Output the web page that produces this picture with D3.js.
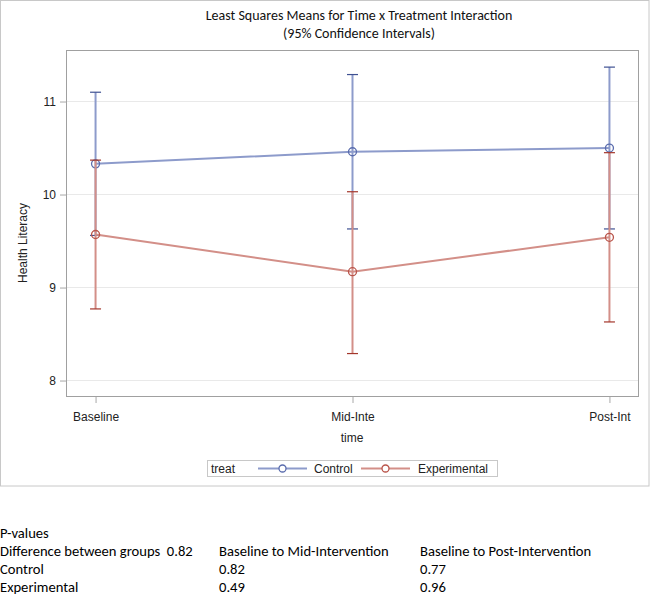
<!DOCTYPE html>
<html>
<head>
<meta charset="utf-8">
<script src="https://cdn.jsdelivr.net/npm/d3@7"></script>
<style>
  html, body { margin: 0; padding: 0; background: #fff; }
  svg { display: block; }
  text { white-space: pre; }
</style>
</head>
<body>
<svg id="chart" width="650" height="597"></svg>
<script>
// ---- data ----
const times = ["Baseline", "Mid-Inte", "Post-Int"];
const controlMean = [10.33, 10.46, 10.50];
const controlLower = [9.56, 9.63, 9.63];
const controlUpper = [11.10, 11.29, 11.37];
const expMean = [9.57, 9.17, 9.54];
const expLower = [8.77, 8.29, 8.63];
const expUpper = [10.37, 10.03, 10.45];
const yTicks = [8, 9, 10, 11];
const pHeader = ["P-values"];
const pRowLabels = ["Difference between groups  0.82", "Control", "Experimental"];
const pMid = ["Baseline to Mid-Intervention", "0.82", "0.49"];
const pPost = ["Baseline to Post-Intervention", "0.77", "0.96"];

const series = [
  { name: "Control", mean: controlMean, lo: controlLower, hi: controlUpper,
    line: "#8d9bcb", cap: "#3f5192", marker: "#5a6cad" },
  { name: "Experimental", mean: expMean, lo: expLower, hi: expUpper,
    line: "#d38f88", cap: "#a3362b", marker: "#b9544a" }
];

const svg = d3.select("#chart");
const L = 66, R = 639, T = 50, B = 397;

// outer border
svg.append("rect").attr("x", 0.5).attr("y", 0.5).attr("width", 648.5).attr("height", 485.5)
  .attr("fill", "none").attr("stroke", "#c8c8c8").attr("stroke-width", 1);

const x = d3.scalePoint().domain(times).range([L, R]).padding(0.115);
const y = d3.scaleLinear().domain([7.823, 11.554]).range([B, T]);

// gridlines
svg.append("g").selectAll("line").data(yTicks).join("line")
  .attr("x1", L).attr("x2", R)
  .attr("y1", d => y(d)).attr("y2", d => y(d))
  .attr("stroke", "#e9e9e9").attr("stroke-width", 1);

// axes
const yAxis = svg.append("g").attr("transform", `translate(${L},0)`)
  .call(d3.axisLeft(y).tickValues(yTicks).tickSize(6).tickPadding(4).tickFormat(d3.format("d")));
const xAxis = svg.append("g").attr("transform", `translate(0,${B})`)
  .call(d3.axisBottom(x).tickSize(6).tickPadding(9));
[yAxis, xAxis].forEach(g => {
  g.select(".domain").remove();
  g.selectAll(".tick line").attr("stroke", "#a8a8a8");
  g.selectAll(".tick text").attr("fill", "#222").style("font-family", "'Liberation Sans', Arial, sans-serif").style("font-size", "12px");
});

// plot frame
svg.append("rect").attr("x", L + 0.5).attr("y", T + 0.5).attr("width", R - L - 1).attr("height", B - T - 1)
  .attr("fill", "none").attr("stroke", "#a0a0a0").attr("stroke-width", 1);

// series
const line = d3.line().x(d => x(d.t)).y(d => y(d.v));
series.forEach(s => {
  const g = svg.append("g");
  const pts = times.map((t, i) => ({ t, v: s.mean[i], lo: s.lo[i], hi: s.hi[i] }));
  g.selectAll("line.eb").data(pts).join("line").attr("class", "eb")
    .attr("x1", d => x(d.t)).attr("x2", d => x(d.t))
    .attr("y1", d => y(d.lo)).attr("y2", d => y(d.hi))
    .attr("stroke", s.line).attr("stroke-width", 2);
  ["lo", "hi"].forEach(k => {
    g.selectAll("line.cap" + k).data(pts).join("line").attr("class", "cap" + k)
      .attr("x1", d => x(d.t) - 5.5).attr("x2", d => x(d.t) + 5.5)
      .attr("y1", d => y(d[k])).attr("y2", d => y(d[k]))
      .attr("stroke", s.cap).attr("stroke-width", 1.2);
  });
  g.append("path").datum(pts).attr("d", line)
    .attr("fill", "none").attr("stroke", s.line).attr("stroke-width", 2);
  g.selectAll("circle").data(pts).join("circle")
    .attr("cx", d => x(d.t)).attr("cy", d => y(d.v)).attr("r", 4)
    .attr("fill", "none").attr("stroke", s.marker).attr("stroke-width", 1.3);
});

// titles
const titleFont = "Carlito, Calibri, Lato, sans-serif";
svg.append("text").attr("x", 359).attr("y", 20).attr("text-anchor", "middle")
  .style("font-family", titleFont).style("font-size", "14px").attr("fill", "#111")
  .text("Least Squares Means for Time x Treatment Interaction");
svg.append("text").attr("x", 359).attr("y", 38).attr("text-anchor", "middle")
  .style("font-family", titleFont).style("font-size", "14px").attr("fill", "#111")
  .text("(95% Confidence Intervals)");

// axis labels
const axFont = "'Liberation Sans', Arial, sans-serif";
svg.append("text").attr("transform", "translate(27,243) rotate(-90)").attr("text-anchor", "middle")
  .style("font-family", axFont).style("font-size", "12px").attr("fill", "#222").text("Health Literacy");
svg.append("text").attr("x", 352).attr("y", 442).attr("text-anchor", "middle")
  .style("font-family", axFont).style("font-size", "12px").attr("fill", "#222").text("time");

// legend
const lg = svg.append("g");
lg.append("rect").attr("x", 207.5).attr("y", 460.5).attr("width", 290).attr("height", 16)
  .attr("fill", "none").attr("stroke", "#c8c8c8");
lg.append("text").attr("x", 211).attr("y", 472.5).style("font-family", axFont).style("font-size", "12px")
  .attr("fill", "#222").text("treat");
const legX = [[258, 307, 314], [361, 410, 418]];
series.forEach((s, i) => {
  const [x0, x1, tx] = legX[i];
  lg.append("line").attr("x1", x0).attr("x2", x1).attr("y1", 468.5).attr("y2", 468.5)
    .attr("stroke", s.line).attr("stroke-width", 2);
  lg.append("circle").attr("cx", (x0 + x1) / 2).attr("cy", 468.5).attr("r", 3.5)
    .attr("fill", "#fff").attr("stroke", s.marker).attr("stroke-width", 1.3);
  lg.append("text").attr("x", tx).attr("y", 472.5).style("font-family", axFont).style("font-size", "12px")
    .attr("fill", "#222").text(s.name);
});

// p-value table
const tf = "Carlito, Calibri, Lato, sans-serif";
const fs = "14.6px";
const rowsY = [556, 574, 592];
svg.append("text").attr("x", 0).attr("y", 538).style("font-family", tf).style("font-size", fs)
  .attr("fill", "#000").text(pHeader[0]);
pRowLabels.forEach((t, i) => {
  svg.append("text").attr("x", 0).attr("y", rowsY[i]).style("font-family", tf).style("font-size", fs).attr("fill", "#000").text(t);
  svg.append("text").attr("x", 219).attr("y", rowsY[i]).style("font-family", tf).style("font-size", fs).attr("fill", "#000").text(pMid[i]);
  svg.append("text").attr("x", 420).attr("y", rowsY[i]).style("font-family", tf).style("font-size", fs).attr("fill", "#000").text(pPost[i]);
});
</script>
</body>
</html>
